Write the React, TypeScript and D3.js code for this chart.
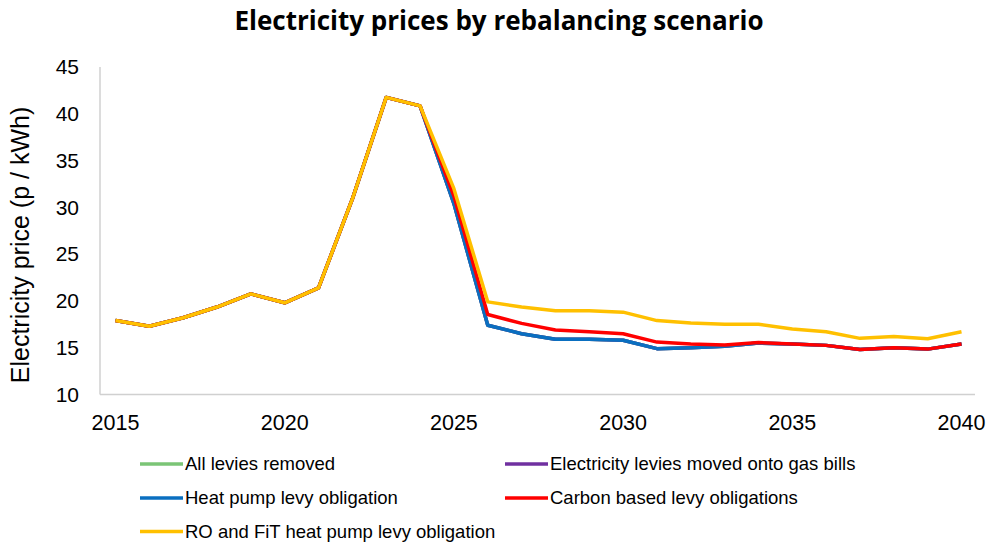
import React from "react";
import * as d3 from "d3";

const years = d3.range(2015, 2041);
const history = [17.9, 17.3, 18.2, 19.35, 20.75, 19.8, 21.4, 30.9, 41.75, 40.85];
const allLevies = [...history, 30.4, 17.4, 16.5, 15.9, 15.9, 15.8, 14.9, 15.0, 15.15, 15.5, 15.4, 15.25, 14.8, 15.0, 14.85, 15.4];
const gasBills = [...history, 30.4, 17.4, 16.5, 15.9, 15.9, 15.8, 14.9, 15.0, 15.15, 15.5, 15.4, 15.25, 14.8, 15.0, 14.85, 15.4];
const heatPump = [...history, 30.4, 17.4, 16.5, 15.9, 15.9, 15.8, 14.9, 15.0, 15.15, 15.5, 15.4, 15.25, 14.8, 15.0, 14.85, 15.4];
const carbonBased = [...history, 31.2, 18.55, 17.6, 16.9, 16.7, 16.5, 15.6, 15.4, 15.3, 15.55, 15.4, 15.25, 14.8, 15.0, 14.85, 15.4];
const roFit = [...history, 32.0, 19.9, 19.35, 18.95, 18.95, 18.8, 17.9, 17.65, 17.5, 17.5, 17.0, 16.7, 16.0, 16.2, 15.95, 16.7];

const seriesNames = [
  "All levies removed",
  "Electricity levies moved onto gas bills",
  "Heat pump levy obligation",
  "Carbon based levy obligations",
  "RO and FiT heat pump levy obligation",
];
const seriesValues = [allLevies, gasBills, heatPump, carbonBased, roFit];
const seriesColors = ["#7BC576", "#7030A0", "#0A6FC0", "#FF0000", "#FFC000"];
const yTicks = [10, 15, 20, 25, 30, 35, 40, 45];
const xTicks = [2015, 2020, 2025, 2030, 2035, 2040];

export default function App() {
  const x = d3.scaleLinear().domain([2015, 2040]).range([115.5, 961.5]);
  const y = d3.scaleLinear().domain([10, 45]).range([394.5, 67]);
  const line = d3
    .line<number>()
    .x((_, i) => x(years[i]))
    .y((d) => y(d));

  const legendPos = [
    { lx: 140, tx: 185, y: 464 },
    { lx: 505, tx: 550, y: 464 },
    { lx: 140, tx: 185, y: 498 },
    { lx: 505, tx: 550, y: 498 },
    { lx: 140, tx: 185, y: 531.5 },
  ];

  return (
    <svg
      width={988}
      height={542}
      style={{ position: "absolute", left: 0, top: 0, background: "#fff" }}
    >
      <rect width={988} height={542} fill="#fff" />
      <text
        x={499}
        y={30}
        textAnchor="middle"
        fontFamily="'Open Sans', sans-serif"
        fontWeight={700}
        fontSize={26}
        fill="#000"
      >
        Electricity prices by rebalancing scenario
      </text>

      <line x1={100} x2={100} y1={67} y2={394.5} stroke="#D0D0D0" strokeWidth={1.5} />
      <line x1={100} x2={975} y1={394.5} y2={394.5} stroke="#D0D0D0" strokeWidth={1.5} />

      {yTicks.map((t) => (
        <text
          key={t}
          x={79}
          y={y(t)}
          dy="0.35em"
          textAnchor="end"
          fontFamily="'Liberation Sans', Arial, sans-serif"
          fontSize={21}
          fill="#000"
        >
          {t}
        </text>
      ))}
      {xTicks.map((t) => (
        <text
          key={t}
          x={x(t)}
          y={430}
          textAnchor="middle"
          fontFamily="'Liberation Sans', Arial, sans-serif"
          fontSize={21.5}
          fill="#000"
        >
          {t}
        </text>
      ))}
      <text
        transform={`translate(29,245) rotate(-90)`}
        textAnchor="middle"
        fontFamily="'Liberation Sans', Arial, sans-serif"
        fontSize={25}
        fill="#000"
      >
        Electricity price (p / kWh)
      </text>

      {seriesValues.map((vals, i) => (
        <path
          key={seriesNames[i]}
          d={line(vals) || ""}
          fill="none"
          stroke={seriesColors[i]}
          strokeWidth={3.5}
          strokeLinejoin="round"
        />
      ))}

      {seriesNames.map((name, i) => (
        <g key={name}>
          <line
            x1={legendPos[i].lx}
            x2={legendPos[i].lx + 43}
            y1={legendPos[i].y}
            y2={legendPos[i].y}
            stroke={seriesColors[i]}
            strokeWidth={3.5}
          />
          <text
            x={legendPos[i].tx}
            y={legendPos[i].y}
            dy="0.35em"
            fontFamily="'Liberation Sans', Arial, sans-serif"
            fontSize={18.5}
            fill="#000"
          >
            {name}
          </text>
        </g>
      ))}
    </svg>
  );
}
